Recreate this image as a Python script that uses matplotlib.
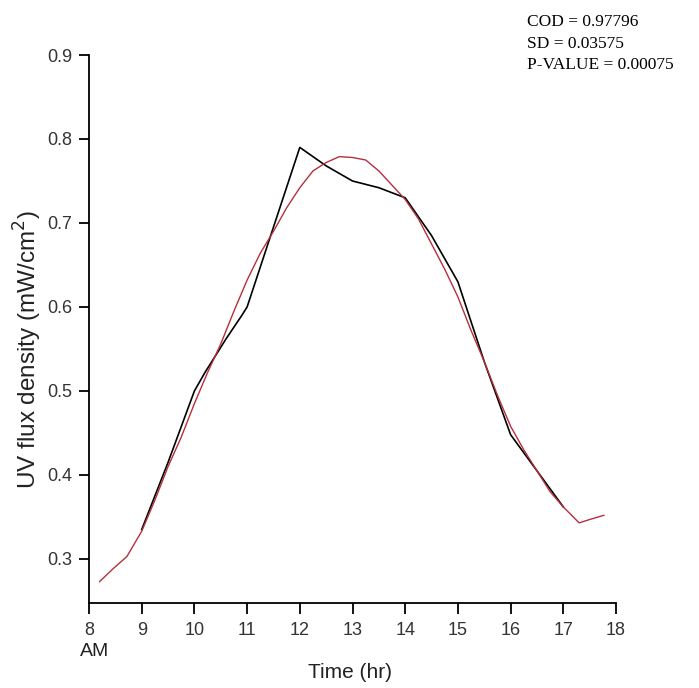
import matplotlib
matplotlib.use("Agg")
import matplotlib.pyplot as plt

# measured UV flux (black)
time_meas = [9.0, 9.5, 10.0, 10.2, 10.6, 10.9, 11.0, 12.0, 12.5, 13.0, 13.5, 14.0,
             14.5, 15.0, 15.5, 16.0, 16.5, 17.0]
uv_meas = [0.335, 0.415, 0.50, 0.522, 0.562, 0.59, 0.60, 0.79, 0.768, 0.75, 0.742, 0.73,
           0.685, 0.63, 0.535, 0.448, 0.405, 0.362]

# fitted curve (red)
time_fit = [8.2, 8.45, 8.72, 9.0, 9.25, 9.5, 9.75, 10.0, 10.25, 10.5, 10.75, 11.0,
            11.25, 11.5, 11.75, 12.0, 12.25, 12.5, 12.75, 13.0, 13.25, 13.5, 13.75,
            14.0, 14.25, 14.5, 14.75, 15.0, 15.25, 15.5, 15.75, 16.0, 16.25, 16.5,
            16.75, 17.0, 17.3, 17.5, 17.77]
uv_fit = [0.273, 0.288, 0.303, 0.333, 0.37, 0.41, 0.445, 0.485, 0.522, 0.556, 0.595, 0.632,
          0.664, 0.69, 0.718, 0.742, 0.762, 0.772, 0.779, 0.778, 0.775, 0.762, 0.745,
          0.728, 0.705, 0.675, 0.645, 0.612, 0.572, 0.535, 0.495, 0.458, 0.43, 0.405,
          0.38, 0.362, 0.343, 0.347, 0.352]

xticks = list(range(8, 19))
yticks = [0.3, 0.4, 0.5, 0.6, 0.7, 0.8, 0.9]
stats = ["COD = 0.97796", "SD = 0.03575", "P-VALUE = 0.00075"]

sans = ['Liberation Sans', 'DejaVu Sans']

fig = plt.figure(figsize=(6.99, 6.88), dpi=100)
ax = fig.add_axes([89/699, 1-603/688, (616-89)/699, (603-55)/688])

ax.plot(time_meas, uv_meas, color='black', lw=1.2)
ax.plot(time_fit, uv_fit, color='#b5303c', lw=1.0)

ax.set_xlim(8, 18)
ax.set_ylim(0.2476, 0.9)
for s in ['top', 'right']:
    ax.spines[s].set_visible(False)
for s in ['left', 'bottom']:
    ax.spines[s].set_linewidth(1.3)

ax.set_xticks(xticks)
ax.set_xticklabels([str(t) for t in xticks], family=sans, fontsize=13, color='#333333')
ax.set_yticks(yticks)
ax.set_yticklabels(["%.1f" % t for t in yticks], family=sans, fontsize=13, color='#333333')
ax.tick_params(axis='x', length=8, width=1.3, pad=6)
ax.tick_params(axis='y', length=7, width=1.3, pad=5)

fig.text(28/699, 1-350/688, "UV flux density (mW/cm$^2$)", family=sans, fontsize=17.5,
         color='#222222', rotation=90, ha='center', va='center')
fig.text(350/699, 1-673/688, "Time (hr)", family=sans, fontsize=15, color='#222222',
         ha='center', va='center')
fig.text(80/699, 1-652/688, "AM", family=sans, fontsize=14, color='#222222',
         ha='left', va='center')

for i, s in enumerate(stats):
    fig.text(527/699, 1-(22+21.5*i)/688, s, family=['Liberation Serif', 'DejaVu Serif'],
             fontsize=12.5, color='black', ha='left', va='center')

fig.savefig("out.png", dpi=100)
